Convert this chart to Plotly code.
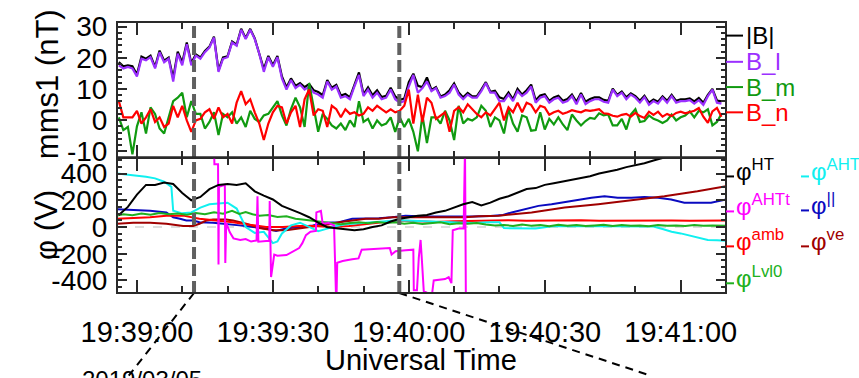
import numpy as np
import pandas as pd
import plotly.graph_objects as go
from plotly.subplots import make_subplots

T0 = pd.Timestamp("2019-03-05 19:39:00")

# ---------------- top panel: magnetic field (nT), 1-s samples from 19:38:56 ----------------
B_START = -4
B_tot = [18.6, 17.3, 17.6, 17.3, 14.6, 20.4, 19.7, 20.7, 17.1, 22.3, 19.1, 20.1, 13.5, 22.0, 18.5, 24.9,
         18.3, 21.1, 20.1, 22.2, 23.6, 26.8, 16.0, 20.1, 20.5, 25.2, 24.2, 29.3, 26.3, 29.3, 26.2, 21.6,
         16.4, 20.6, 17.6, 20.6, 14.0, 10.5, 13.4, 11.0, 11.9, 10.6, 11.6, 9.6, 9.0, 8.0,
         12.9, 10.4, 11.3, 7.9, 8.4, 7.3, 11.2, 15.3, 8.3, 10.5, 8.0, 9.6, 7.4, 7.8, 10.4, 7.6,
         6.5, 6.9, 12.2, 14.9, 11.0, 10.6, 13.7, 9.7, 10.6, 7.6, 8.2, 9.6, 11.8, 8.9, 7.3, 8.7,
         7.6, 7.6, 9.8, 12.2, 9.1, 9.4, 7.3, 6.8, 8.9, 6.7, 10.0, 8.2, 9.6,
         11.4, 6.4, 7.9, 8.3, 6.2, 7.3, 7.8, 6.2, 6.8, 8.2, 5.9, 8.7, 5.9, 6.8, 7.3, 7.3,
         6.5, 6.2, 10.1, 8.1, 9.2, 7.3, 8.6, 7.7, 6.2, 7.8, 5.6, 6.6, 5.9, 7.6, 6.2, 8.1,
         6.2, 6.7, 6.7, 7.0, 6.0, 7.1, 5.6, 8.1, 10.0, 6.3, 6.0]
B_l = [17.6, 16.6, 17.1, 16.6, 14.0, 19.7, 19.2, 20.2, 16.6, 21.8, 18.6, 19.7, 12.4, 21.3, 17.6, 24.4,
       17.6, 20.7, 19.7, 21.8, 23.3, 26.5, 15.5, 19.7, 20.2, 24.9, 23.9, 29.0, 26.0, 29.0, 26.0, 21.3,
       15.5, 20.2, 17.1, 20.2, 13.4, 9.8, 12.9, 10.3, 11.4, 9.8, 10.8, 8.8, 8.2, 7.2,
       12.4, 9.8, 10.8, 7.2, 7.7, 6.7, 10.8, 14.5, 7.7, 9.8, 7.2, 8.8, 6.7, 7.2, 9.8, 6.7,
       5.6, 6.1, 10.8, 14.5, 8.8, 10.3, 12.4, 9.3, 10.3, 7.2, 7.7, 8.8, 11.4, 8.2, 6.7, 8.2,
       7.2, 7.2, 9.3, 11.9, 8.8, 8.8, 6.1, 6.1, 8.2, 6.1, 9.3, 7.7, 8.8,
       10.8, 5.6, 7.2, 7.7, 5.6, 6.7, 7.2, 5.6, 6.1, 7.7, 5.1, 8.2, 5.1, 6.1, 6.7, 6.7,
       5.9, 5.6, 9.8, 7.7, 8.8, 6.7, 8.2, 7.2, 5.6, 7.4, 4.9, 6.1, 5.3, 7.2, 5.6, 7.7,
       5.6, 6.1, 6.1, 6.4, 5.3, 6.4, 4.9, 7.7, 9.8, 5.6, 5.3]
B_m = [0.9, -3.2, -2.2, -11.0, -2.0, 2.5, -4.3, 4.1, 2.0, -2.7, -4.3, 0.9, 6.1, 7.2, 8.8, 0.9,
       6.1, 2.0, 2.0, -2.7, -0.6, 2.5, -4.8, 2.0, 0.9, 2.5, -1.1, 0.9, -2.2, 3.0, 0.4, -0.6,
       1.5, 2.0, 4.1, 6.1, 1.5, -1.7, 3.5, 7.2, 4.1, -2.2, 11.9, 4.1, -3.75, 2.0,
       0.4, -1.7, -2.7, -1.1, -3.2, -0.1, -2.2, 6.1, -0.6, 0.4, -2.7, -0.1, -1.7, -1.1, 0.9, -3.75,
       0.9, -2.2, 0.4, -3.75, -10.0, 1.5, -7.4, 0.9, 0.9, -1.1, 3.0, -0.1, -6.4, 4.6, -1.1, 0.4,
       -0.1, 0.9, 4.6, 3.0, -2.2, 0.9, -0.1, -4.3, 3.5, -1.1, -3.75, 1.5, 0.9,
       -3.4, -3.2, 2.5, -3.0, 0.4, -1.4, 0.9, -1.4, -3.2, 1.8, -0.1, -1.7, -0.3, 0.7, 0.4, 2.2,
       1.5, 1.8, -1.7, -1.7, 0.4, -3.0, 1.8, 3.5, -0.6, -0.3, 1.5, 0.4, -0.1, -0.9, -0.1, 1.8,
       -0.1, 0.9, 1.5, 2.8, 0.9, 3.0, 2.5, 3.5, -1.7, -0.6, 2.0]
B_n = [6.1, 0.9, 0.9, 0.9, 3.0, -1.1, 0.9, 3.5, -0.6, 0.9, -2.2, -1.1, 4.6, 0.9, 4.6, -0.1,
       -3.75, -0.1, 0.4, 2.5, 3.5, 0.4, 4.1, 0.9, 2.0, -1.1, 5.6, 9.3, 5.1, 6.7, 2.5, -1.1,
       -6.4, -1.1, 2.5, 4.6, 4.1, -1.1, 2.5, 4.6, -2.2, 6.7, 9.8, 1.5, 3.5, 3.0,
       -2.2, 4.6, 3.5, 0.9, 3.5, 2.0, 2.5, 1.5, 2.0, 4.1, 3.0, 4.6, 3.5, 2.5, 3.5, 2.5,
       3.0, 4.6, 9.8, -1.1, 8.2, -0.6, 7.2, 5.6, 0.4, 1.5, 2.5, -3.75, 3.0, 4.1, 2.5, 5.1,
       3.5, 2.0, 0.9, 2.5, 1.5, 3.5, 5.6, -0.1, 4.1, 2.5, 5.6, 2.5, 5.6,
       4.9, 2.5, 4.6, 4.1, 1.7, 2.5, 3.0, 2.0, 2.5, 3.2, 2.8, 2.5, 3.2, 3.0, 3.2, 3.5,
       2.2, 2.0, 1.4, 1.1, 1.7, 2.0, 1.1, 2.3, 1.3, 0.7, 2.7, 1.7, 2.7, 1.1, 2.0, 1.3,
       2.3, 2.7, 2.2, 2.7, 3.0, 3.9, 1.1, -0.9, 2.8, 3.9, 1.1]

# ---------------- bottom panel: potentials (V), times in s after 19:39:00 ----------------
phi_HT_t = [-4, -2, 0, 2, 4, 6, 8, 10, 12, 14, 16, 18, 20, 22, 24, 26, 28, 30, 32, 34, 36, 38, 40, 42,
            44, 46, 48, 50, 52, 54, 56, 58, 60, 62, 64, 66, 68, 70, 72, 74, 76, 78, 80, 82, 84, 86,
            88, 90, 92, 94, 96, 98, 100, 102, 104, 106, 108, 110, 112, 114, 116, 118, 120, 124, 130]
phi_HT = [90, 150, 242, 315, 315, 332, 322, 255, 200, 225, 283, 315, 322, 315, 327, 267, 235, 206, 158,
          133, 104, 73, 32, -2, -7, -17, -24, -17, 0, 12, 41, 61, 73, 85, 90, 109, 121, 145, 170, 187,
          162, 182, 211, 230, 255, 284, 291, 315, 327, 339, 352, 364, 380, 400, 412, 429, 448, 460,
          477, 497, 516, 533, 560, 600, 650]

phi_AHT_t = [-4.4, -2, 0, 2, 4, 6, 7, 7.6, 8, 10, 12, 14, 16, 18, 20, 22, 24, 26, 28, 30, 31, 32, 34,
             36, 38, 40, 42, 44, 46, 50, 54, 58, 62, 66, 70, 74, 78, 80, 81, 84, 88, 92, 96, 100, 104,
             108, 112, 114, 116, 118, 120, 122, 124, 126, 128, 130]
phi_AHT = [400, 393, 383, 376, 364, 339, 315, 300, 121, 102, 109, 145, 170, 177, 182, 138, 0, -44, -36,
           -121, -109, -48, 12, 32, 0, -32, -12, 7, 20, 30, 40, 50, 45, 40, 35, 30, 35, 35, -8, -10,
           -12, 8, 5, 5, 5, 5, 5, 3, -15, -35, -48, -65, -85, -97, -100, -103]

phi_AHTt_t = [17.0, 17.1, 17.9, 18.0, 18.1, 19.0, 19.4, 19.5, 19.7, 20.5, 21.3, 22.8, 24.0, 25.2, 26.4,
              26.6, 26.8, 28.5, 29.2, 29.3, 29.6, 30.3, 31.0, 33.0, 34.4, 35.8, 36.5, 37.3, 38.3, 39.5,
              39.6, 40.6, 41.0, 42.3, 43.5, 43.8, 44.0, 44.2, 45.4, 47.5, 48.9, 49.6, 52.5, 54.7, 55.8,
              56.2, 57.1, 59.3, 60.6, 61.0, 61.1, 61.8, 62.2, 62.6, 62.9, 63.3, 65.1, 65.5, 68.0, 68.8,
              69.4, 69.7, 71.0, 72.1, 72.4, 72.6]
phi_AHTt = [600, 470, 470, -280, 300, 310, 315, -270, 30, -40, -85, -97, -90, -109, -100,
            230, -110, -105, -105, 195, -375, -206, -215, -210, -182, -158, -121, -61, -36, -30,
            109, 121, 24, 30, 12, -600, -600, -267, -255, -242, -235, -170, -165, -158, -158,
            -206, -182, -175, -170, -170, -473, -473, -230, -97, -255, -480, -510, -400, -390, -376,
            -420, -24, -12, -12, 600, -600]

phi_par_t = [-4.4, -0.8, 2.9, 6.5, 8, 9.5, 10.9, 12.4, 13.8, 16.8, 19.7, 22.6, 25.6, 28.5, 30.7, 32.9,
             35.8, 38.8, 41.7, 44.6, 47.5, 50.5, 53.4, 56.3, 59.3, 62, 66, 70, 74, 78, 80.8, 82.7, 85.6,
             88.6, 91.5, 94.4, 97.4, 100.3, 103.2, 106.1, 109.1, 112, 115, 117.9, 120.8, 123.7, 126.7, 130]
phi_par = [133, 128, 121, 109, 73, 61, 48, 48, 36, 32, 24, 12, 0, -12, -29, -12, 0, 12, 32, 36, 61, 61,
           65, 73, 85, 80, 78, 80, 78, 82, 90, 109, 133, 158, 170, 187, 206, 218, 230, 218, 218, 225,
           218, 206, 182, 182, 182, 206]

phi_amb_t = [-4.4, -0.8, 2.9, 6.5, 10.2, 13.8, 17.5, 21.2, 24.8, 28.5, 32.2, 35.8, 39.5, 43.2, 46.8,
             50.5, 54.1, 57.8, 62, 66, 70, 74, 78, 82, 86, 90, 94, 98, 102, 106, 110, 114, 118, 122,
             126, 130]
phi_amb = [61, 65, 73, 85, 85, 61, 48, 36, 17, 0, 0, 7, 7, 0, 7, 24, 36, 48, 40, 38, 42, 46, 48, 50,
           47, 49, 46, 50, 47, 48, 50, 46, 49, 47, 50, 48]

phi_ve_t = [-4.4, -0.8, 2.9, 6.5, 10.2, 12.4, 13.8, 15.3, 16.8, 19.7, 21.2, 24.1, 27, 30, 32.9, 35.8,
            38.8, 41.7, 44.6, 47.5, 50.5, 53.4, 56.3, 59.3, 65.1, 72.4, 75.4, 79.8, 87.1, 94.4, 101.8,
            109.1, 116.4, 123.7, 130]
phi_ve = [24, 32, 32, 24, 7, 7, 24, 48, 56, 56, 48, 24, -7, -24, -24, -12, 0, 17, 36, 48, 61, 61, 73,
          73, 73, 73, 80, 85, 109, 145, 170, 199, 230, 267, 305]

phi_Lvl0_t = [-4.4, -3, -1, 1, 3, 5, 7, 9, 11, 13, 15, 17, 19, 21, 22.6, 24, 25.5, 27, 29, 31, 33, 35,
              37, 39, 41, 43, 45, 47, 49, 51, 53, 55, 57, 59, 61, 63, 65, 67, 69, 71, 73, 75, 77, 79,
              81, 83, 85, 87, 89, 91, 93, 95, 97, 99, 101, 103, 105, 107, 109, 111, 113, 115, 117, 119,
              121, 123, 125, 127, 130]
phi_Lvl0 = [85, 95, 88, 100, 92, 104, 95, 100, 92, 105, 96, 110, 100, 121, 97, 112, 95, 85, 90, 75, 80,
            62, 55, 45, 40, 28, 20, 30, 35, 28, 38, 30, 36, 25, 32, 22, 30, 35, 20, 28, 24, 30, 18, 12,
            15, 8, 18, 10, 14, 6, 16, 10, 14, 8, 12, 16, 8, 14, 10, 12, 6, 14, 10, 12, 8, 14, 10, 12, 9]

EVENT_T = [12.6, 57.9]          # grey dashed event markers
ZOOM_END_T = [-1.8, 113.4]      # where the connector lines leave the figure
X_RANGE_T = [-4.4, 130.0]

B_TICKVALS = [-10, 0, 10, 20, 30]
B_TICKTEXT = ["-10", "0", "10", "20", "30"]
PHI_TICKVALS = [-400, -200, 0, 200, 400]
PHI_TICKTEXT = ["-400", "-200", "0", "200", "400"]


def tt(sec):
    return T0 + pd.to_timedelta(np.asarray(sec, dtype=float), unit="s")


def pair(t, v):
    n = min(len(t), len(v))
    return tt(t[:n]), v[:n]


FONT = "Liberation Sans, Arial, sans-serif"
PURPLE, GREEN, RED = "#9b30ff", "#109a10", "#ff0000"
CYAN, MAG, BLUE, DRED, LGREEN = "#10f0f0", "#ff00ff", "#0a0ac0", "#a00000", "#20b020"
FRAME = "#2a2a2a"

fig = make_subplots(rows=2, cols=1, shared_xaxes=True, vertical_spacing=0)

for vals, col in [(B_tot, "black"), (B_l, PURPLE), (B_m, GREEN), (B_n, RED)]:
    t = B_START + np.arange(len(vals))
    fig.add_trace(go.Scatter(x=tt(t), y=vals, mode="lines", line=dict(color=col, width=2.2),
                             hoverinfo="skip"), row=1, col=1)

for (t, v), col in [((phi_par_t, phi_par), BLUE), ((phi_ve_t, phi_ve), DRED),
                    ((phi_amb_t, phi_amb), RED), ((phi_AHT_t, phi_AHT), CYAN),
                    ((phi_Lvl0_t, phi_Lvl0), LGREEN), ((phi_AHTt_t, phi_AHTt), MAG),
                    ((phi_HT_t, phi_HT), "black")]:
    x, y = pair(t, v)
    fig.add_trace(go.Scatter(x=x, y=y, mode="lines", line=dict(color=col, width=2),
                             hoverinfo="skip"), row=2, col=1)

axis_common = dict(showline=True, linecolor=FRAME, linewidth=1, mirror="ticks", ticks="inside",
                   tickcolor=FRAME, showgrid=False, zeroline=False,
                   tickfont=dict(family=FONT, size=28, color="black"))

xr = [tt([X_RANGE_T[0]])[0], tt([X_RANGE_T[1]])[0]]
for r in (1, 2):
    fig.update_xaxes(range=xr, type="date", tick0=T0, dtick=30000, tickformat="%H:%M:%S",
                     ticklen=13, tickwidth=1.5,
                     minor=dict(ticks="inside", dtick=10000, ticklen=7, tickcolor=FRAME, tickwidth=1.5),
                     **axis_common, row=r, col=1)
fig.update_xaxes(showticklabels=False, row=1, col=1)
fig.update_xaxes(showticklabels=True, ticklabelstandoff=13,
                 tickfont=dict(family=FONT, size=29, color="black"), row=2, col=1)

fig.update_yaxes(range=[-12, 31.5], tickvals=B_TICKVALS, ticktext=B_TICKTEXT, ticklen=10, tickwidth=1.5,
                 minor=dict(ticks="inside", dtick=2, ticklen=5, tickcolor=FRAME),
                 ticklabelstandoff=3, **axis_common, row=1, col=1)
fig.update_yaxes(range=[-494, 520], tickvals=PHI_TICKVALS, ticktext=PHI_TICKTEXT, ticklen=10, tickwidth=1.5,
                 minor=dict(ticks="inside", dtick=50, ticklen=5, tickcolor=FRAME),
                 ticklabelstandoff=3, **axis_common, row=2, col=1)

shapes = []
# zero reference in phi panel
shapes.append(dict(type="line", xref="x2 domain", yref="y2", x0=0, x1=1, y0=0, y1=0,
                   line=dict(color="#bbbbbb", width=1.2, dash="dash"), layer="below"))
for te, tz in zip(EVENT_T, ZOOM_END_T):
    xe = tt([te])[0]
    shapes.append(dict(type="line", xref="x", yref="paper", x0=xe, x1=xe, y0=0, y1=1,
                       line=dict(color="#606060", width=4, dash="12px,5px")))
    shapes.append(dict(type="line", xref="x", yref="paper", x0=xe, x1=tt([tz])[0], y0=0, y1=-0.305,
                       line=dict(color="black", width=2, dash="8px,6px")))
# panel frames
shapes.append(dict(type="rect", xref="paper", yref="paper", x0=0, x1=1, y0=0, y1=1,
                   line=dict(color=FRAME, width=2)))
shapes.append(dict(type="line", xref="paper", yref="paper", x0=0, x1=1, y0=0.5, y1=0.5,
                   line=dict(color=FRAME, width=2.5)))

anns = []
W, H0 = 609.0, 279.0
def px(xp): return (xp - 117) / W
def py(yp): return (293 - yp) / H0

top_labels = [("|B|", "black", 28), ("B_l", PURPLE, 55), ("B_m", GREEN, 81), ("B_n", RED, 107)]
for txt, col, yp in top_labels:
    shapes.append(dict(type="line", xref="paper", yref="paper", x0=px(726), x1=px(743),
                       y0=py(yp), y1=py(yp), line=dict(color=col, width=2)))
    anns.append(dict(text=txt, xref="paper", yref="paper", x=px(744), y=py(yp), xanchor="left",
                     yanchor="middle", showarrow=False, font=dict(family=FONT, size=24, color=col)))

phi_labels = [("HT", "black", 726, 173), ("AHTt", MAG, 726, 209), ("amb", RED, 726, 245),
              ("Lvl0", LGREEN, 726, 283), ("AHT", CYAN, 801, 173), ("||", BLUE, 801, 208),
              ("ve", DRED, 801, 245)]
for sup, col, x0, yp in phi_labels:
    shapes.append(dict(type="line", xref="paper", yref="paper", x0=px(x0), x1=px(x0 + 8),
                       y0=py(yp), y1=py(yp), line=dict(color=col, width=2)))
    anns.append(dict(text="φ<sup>%s</sup>" % sup, xref="paper", yref="paper", x=px(x0 + 8), y=py(yp),
                     xanchor="left", yanchor="middle", yshift=6, showarrow=False,
                     font=dict(family=FONT, size=24, color=col)))

anns.append(dict(text="mms1 (nT)", xref="paper", yref="paper", x=px(47), y=py(78), textangle=-90,
                 xanchor="center", yanchor="middle",
                 showarrow=False, font=dict(family=FONT, size=31, color="black")))
anns.append(dict(text="φ (V)", xref="paper", yref="paper", x=px(46), y=py(223), textangle=-90,
                 xanchor="center", yanchor="middle",
                 showarrow=False, font=dict(family=FONT, size=31, color="black")))
anns.append(dict(text="Universal Time", xref="paper", yref="paper", x=px(421), y=py(362),
                 xanchor="center", yanchor="middle",
                 showarrow=False, font=dict(family=FONT, size=29, color="black")))
anns.append(dict(text="2019/03/05", xref="paper", yref="paper", x=px(80), y=py(366), xanchor="left",
                 yanchor="top", showarrow=False, font=dict(family=FONT, size=24, color="black")))

fig.update_layout(width=859, height=378, margin=dict(l=117, r=133, t=14, b=85),
                  paper_bgcolor="white", plot_bgcolor="white", showlegend=False,
                  shapes=shapes, annotations=anns, font=dict(family=FONT))

fig.write_html("out.html")
